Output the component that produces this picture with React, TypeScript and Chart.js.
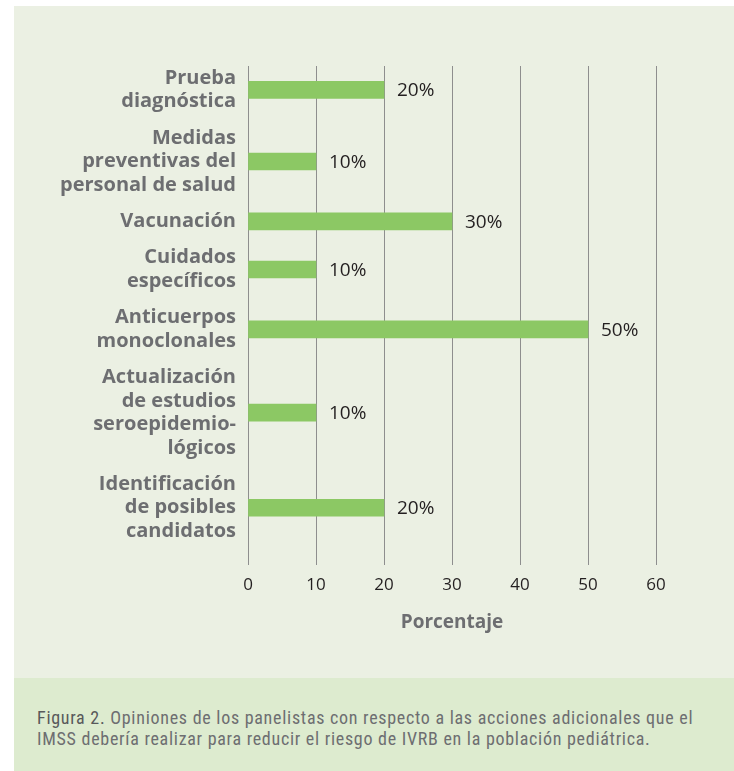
import React, { useEffect, useRef } from "react";
import { Chart, registerables } from "chart.js";

Chart.register(...registerables);

const categoryLabels: string[][] = [
  ["Prueba", "diagnóstica"],
  ["Medidas", "preventivas del", "personal de salud"],
  ["Vacunación"],
  ["Cuidados", "específicos"],
  ["Anticuerpos", "monoclonales"],
  ["Actualización", "de estudios", "seroepidemio-", "lógicos"],
  ["Identificación", "de posibles", "candidatos"],
];
const percentValues: number[] = [20, 10, 30, 10, 50, 10, 20];
const xTickValues: number[] = [0, 10, 20, 30, 40, 50, 60];
const xAxisTitle = "Porcentaje";
const captionLead = "Figura 2.";
const captionLines: string[] = [
  " Opiniones de los panelistas con respecto a las acciones adicionales que el",
  "IMSS debería realizar para reducir el riesgo de IVRB en la población pediátrica.",
];

// layout: each category block takes as many "line units" as its label has lines
const GAP = 0.55;
const BOTTOM_MARGIN = 0.93;
const slotCenters: number[] = [];
let cursor = 0.02;
categoryLabels.forEach((lines) => {
  slotCenters.push(cursor + lines.length / 2);
  cursor += lines.length + GAP;
});
const yMax = cursor - GAP + BOTTOM_MARGIN;

const LABEL_GREY = "#6d6e71";
const TEXT_DARK = "#231f20";

export default function App() {
  const canvasRef = useRef<HTMLCanvasElement | null>(null);

  useEffect(() => {
    const canvas = canvasRef.current;
    if (!canvas) return;

    const valueLabels = {
      id: "valueLabels",
      afterDatasetsDraw(chart: any) {
        const ctx = chart.ctx;
        const meta = chart.getDatasetMeta(0);
        ctx.save();
        ctx.font = "19px 'Open Sans'";
        ctx.fillStyle = TEXT_DARK;
        ctx.textAlign = "left";
        ctx.textBaseline = "middle";
        meta.data.forEach((bar: any, i: number) => {
          ctx.fillText(percentValues[i] + "%", bar.x + 13, bar.y + 1);
        });
        ctx.restore();
      },
    };

    const chart = new Chart(canvas, {
      type: "bar",
      data: {
        datasets: [
          {
            data: percentValues.map((v, i) => ({ x: v, y: slotCenters[i] })) as any,
            backgroundColor: "#8cc864",
            borderWidth: 0,
            barThickness: 17,
          },
        ],
      },
      options: {
        indexAxis: "y",
        animation: false,
        responsive: false,
        maintainAspectRatio: false,
        layout: { padding: { top: 60, right: 78, bottom: 44, left: 0 } },
        plugins: {
          legend: { display: false },
          tooltip: { enabled: false },
        },
        scales: {
          x: {
            type: "linear",
            position: "bottom",
            min: 0,
            max: 60,
            afterBuildTicks: (scale: any) => {
              scale.ticks = xTickValues.map((v) => ({ value: v }));
            },
            grid: {
              display: true,
              color: "#8e8e8e",
              lineWidth: 1,
              drawTicks: false,
            },
            border: { display: false },
            ticks: {
              padding: 10,
              color: TEXT_DARK,
              font: { family: "'Open Sans'", size: 17 },
            },
            title: {
              display: true,
              text: xAxisTitle,
              color: LABEL_GREY,
              font: { family: "'Open Sans'", size: 19, weight: "bold" },
              padding: { top: 6, bottom: 0 },
            },
          },
          y: {
            type: "linear",
            reverse: true,
            offset: false,
            bounds: "data",
            min: 0,
            max: yMax,
            afterBuildTicks: (scale: any) => {
              scale.ticks = slotCenters.map((v) => ({ value: v }));
            },
            afterFit: (scale: any) => {
              scale.width = 234;
            },
            grid: { display: false, drawTicks: false, offset: false },
            border: { display: false },
            ticks: {
              autoSkip: false,
              padding: 12,
              color: LABEL_GREY,
              font: { family: "'Open Sans'", size: 20, weight: "bold", lineHeight: 1.175 },
              callback: (_v: any, index: number) => categoryLabels[index],
            },
          },
        },
      },
      plugins: [valueLabels],
    } as any);

    return () => chart.destroy();
  }, []);

  return (
    <div
      style={{
        position: "absolute",
        left: 0,
        top: 0,
        width: 734,
        height: 771,
        background: "#ffffff",
        overflow: "hidden",
      }}
    >
      <div
        style={{
          position: "absolute",
          left: 14,
          top: 6,
          width: 720,
          height: 672,
          background: "#ebf0e3",
        }}
      >
        <canvas ref={canvasRef} width={720} height={672} style={{ display: "block" }} />
      </div>
      <div
        style={{
          position: "absolute",
          left: 14,
          top: 678,
          width: 720,
          height: 93,
          background: "#ddebcf",
        }}
      >
        <div
          style={{
            position: "absolute",
            left: 23,
            top: 29,
            width: 697,
            whiteSpace: "nowrap",
            fontFamily: "'Liberation Sans Narrow', 'Roboto Condensed', Roboto, sans-serif",
            fontSize: 18,
            letterSpacing: "0.72px",
            lineHeight: "21px",
            color: "#6d6e71",
          }}
        >
          <span style={{ color: "#58595b" }}>{captionLead}</span>
          {captionLines[0]}
          <br />
          {captionLines[1]}
        </div>
      </div>
    </div>
  );
}
